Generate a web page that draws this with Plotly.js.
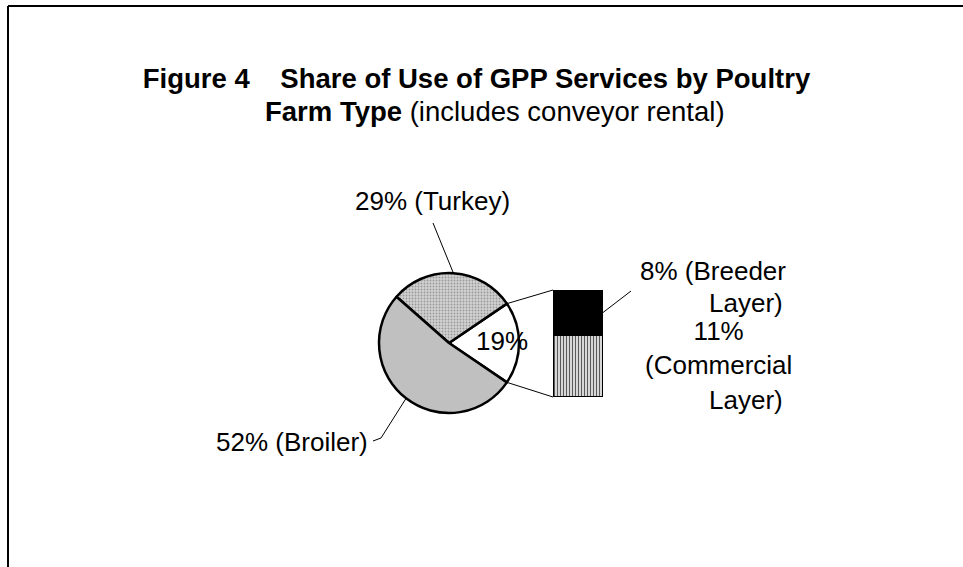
<!DOCTYPE html>
<html>
<head>
<meta charset="utf-8">
<script src="https://cdn.plot.ly/plotly-3.0.1.min.js"></script>
<style>html,body{margin:0;padding:0;background:#fff;}#chart{width:963px;height:567px;}</style>
</head>
<body>
<div id="chart"></div>
<script>
// ---- data ----
const pieLabels = ["Other layers", "Turkey", "Broiler"];
const pieValues = [19, 29, 52];
const pieText = ["19%", "29% (Turkey)", "52% (Broiler)"];
const barLabels = ["Commercial Layer", "Breeder Layer"];
const barValues = [11, 8];
const barText = ["11%<br>(Commercial", "8% (Breeder"];
const titleLine1 = "<b>Figure 4\u00a0\u00a0\u00a0\u00a0Share of Use of GPP Services by Poultry</b>";
const titleLine2 = "<b>Farm Type</b> (includes conveyor rental)";

// ---- geometry (layout only) ----
const W = 963, H = 567;
const cx = 449, cy = 343, R = 70;              // pie centre / radius in px
const bx0 = 553, bx1 = 603, byTop = 290, byBot = 397; // bar box in px
const px = x => x / W, py = y => 1 - y / H;

const total = pieValues.reduce((a, b) => a + b, 0);
const firstDeg = 360 * pieValues[0] / total;
// angle (math convention, deg) of boundaries, first slice centred on 0deg
const bounds = [-firstDeg / 2];
pieValues.forEach(v => bounds.push(bounds[bounds.length - 1] + 360 * v / total));
const onCircle = deg => [cx + R * Math.cos(deg * Math.PI / 180), cy - R * Math.sin(deg * Math.PI / 180)];

const barTotal = barValues.reduce((a, b) => a + b, 0);
const yAtVal = v => byBot - (byBot - byTop) * v / barTotal;

const shapes = [];
const seg = (p, q, w) => shapes.push({type: 'line', xref: 'paper', yref: 'paper',
  x0: px(p[0]), y0: py(p[1]), x1: px(q[0]), y1: py(q[1]), line: {color: 'black', width: w || 1}});

// frame
shapes.push({type: 'line', xref: 'paper', yref: 'paper', x0: px(8), x1: px(8), y0: py(6), y1: -0.05, line: {color: 'black', width: 2}});
shapes.push({type: 'line', xref: 'paper', yref: 'paper', x0: px(8), x1: 1.05, y0: py(6), y1: py(6), line: {color: 'black', width: 2}});

// connectors pie -> bar
seg(onCircle(bounds[1]), [bx0, byTop]);
seg(onCircle(bounds[0]), [bx0, byBot]);

// leader lines
const midT = (bounds[1] + bounds[2]) / 2, midB = (bounds[2] + bounds[3]) / 2;
seg(onCircle(midT), [433, 223]);
seg(onCircle(midB), [381, 438]);
seg([381, 438], [373, 441]);
seg([bx1, yAtVal(barValues[0] + barValues[1] / 2)], [631, 291]);

const FONT = 'Liberation Sans, Arial, sans-serif';
const fnt = {family: FONT, size: 26, color: 'black'};
const ann = (t, x, y, f) => ({text: t, x: px(x), y: py(y), xref: 'paper', yref: 'paper',
  showarrow: false, xanchor: 'center', yanchor: 'middle', font: f || fnt, align: 'center'});

const titleFont = {family: FONT, size: 27.5, color: 'black'};
const annotations = [
  ann(titleLine2, 495, 111, titleFont),
  ann(pieText[0], 502, 341),
  ann(pieText[1], 432, 201),
  ann(pieText[2], 292, 442),
  ann(barText[1], 713, 271),
  ann("Layer)", 746, 303),
  ann(barText[0], 718, 348),
  ann("Layer)", 746, 400)
];

const traces = [
  {
    type: 'pie', labels: pieLabels, values: pieValues, sort: false,
    direction: 'counterclockwise', rotation: 90 - firstDeg / 2,
    textinfo: 'none', hoverinfo: 'label+percent',
    domain: {x: [px(cx - R), px(cx + R)], y: [py(cy + R), py(cy - R)]},
    marker: {
      colors: ['#ffffff', '#d0d0d0', '#c0c0c0'],
      line: {color: 'black', width: 2.5},
      pattern: {shape: ['', '.', ''], size: 3, solidity: 0.3, fgcolor: '#999999', bgcolor: '#d2d2d2', fillmode: 'replace'}
    },
    showlegend: false
  }
];
barLabels.forEach((lab, i) => traces.push({
  type: 'bar', x: [0], y: [barValues[i]], name: lab, width: 1,
  marker: {
    color: i === 0 ? '#ffffff' : '#000000',
    line: {color: 'black', width: 1.5},
    pattern: i === 0 ? {shape: '|', size: 3, solidity: 0.5, fgcolor: '#5a5a5a', bgcolor: '#ffffff'} : {shape: ''}
  },
  showlegend: false, hoverinfo: 'name+y'
}));

const layout = {
  width: W, height: H,
  margin: {l: 0, r: 0, t: 0, b: 0},
  paper_bgcolor: 'white', plot_bgcolor: 'rgba(0,0,0,0)',
  barmode: 'stack', bargap: 0,
  title: {
    text: titleLine1,
    x: px(476.5), xanchor: 'center', y: py(78), yanchor: 'middle', yref: 'container',
    font: titleFont
  },
  xaxis: {domain: [px(bx0), px(bx1)], range: [-0.5, 0.5], visible: false, fixedrange: true},
  yaxis: {domain: [py(byBot), py(byTop)], range: [0, barTotal], visible: false, fixedrange: true},
  shapes: shapes,
  annotations: annotations,
  showlegend: false
};

Plotly.newPlot('chart', traces, layout, {displayModeBar: false, staticPlot: true});
</script>
</body>
</html>
